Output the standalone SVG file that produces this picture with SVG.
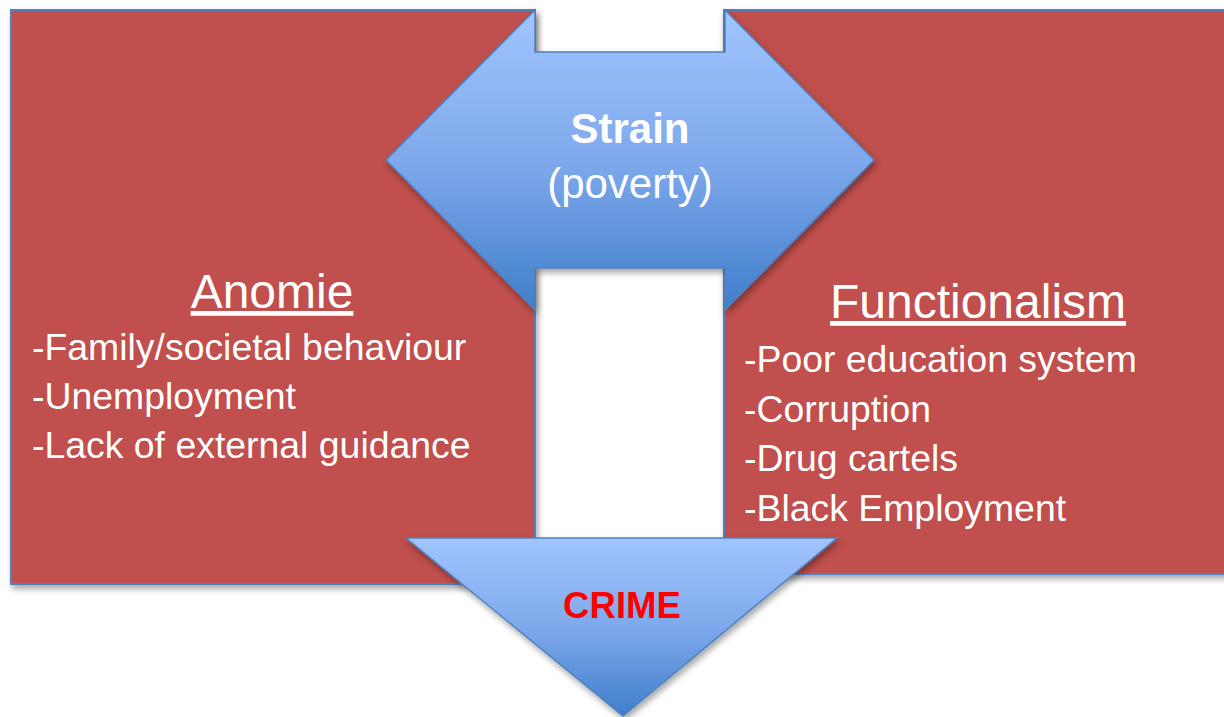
<svg xmlns="http://www.w3.org/2000/svg" width="1224" height="717" viewBox="0 0 1224 717">
<defs>
<linearGradient id="gTop" x1="0" y1="0" x2="0" y2="1">
<stop offset="0" stop-color="#A0C5FF"/>
<stop offset="0.5" stop-color="#7FA9EC"/>
<stop offset="1" stop-color="#3F7ECB"/>
</linearGradient>
<linearGradient id="gBot" x1="0" y1="0" x2="0" y2="1">
<stop offset="0" stop-color="#A0C5FF"/>
<stop offset="0.5" stop-color="#7FA9EC"/>
<stop offset="1" stop-color="#3F7ECB"/>
</linearGradient>
<filter id="sh" x="-10%" y="-10%" width="120%" height="120%">
<feDropShadow dx="2" dy="4" stdDeviation="3" flood-color="#000" flood-opacity="0.35"/>
</filter>
<style>
.box{fill:#C0504D;stroke:#4F81BD;stroke-width:2}
.arrow{stroke:#4F81BD;stroke-width:1.5}
.t{font-family:"Liberation Sans",Arial,sans-serif;fill:#FFFFFF}
.h{font-size:48px;text-decoration:underline}
.li{font-size:37.4px}
</style>
</defs>
<g id="anomie">
<rect class="box" x="11" y="10" width="524" height="574" filter="url(#sh)"/>
</g>
<g id="functionalism">
<rect class="box" x="724" y="10" width="510" height="564" filter="url(#sh)"/>
</g>
<g id="connectors">
<path id="strain-arrow" class="arrow" fill="url(#gTop)" filter="url(#sh)" d="M386,160 L535,10 L535,52 L725,52 L725,10 L874,160 L725,310 L725,268 L535,268 L535,310 Z"/>
<path id="crime-arrow" class="arrow" fill="url(#gBot)" filter="url(#sh)" d="M406,538 L837,538 L623,716 Z"/>
</g>
<g id="anomie-text">
<text class="t h" x="272" y="308" text-anchor="middle">Anomie</text>
<text class="t li" x="32" y="360">-Family/societal behaviour</text>
<text class="t li" x="32" y="409">-Unemployment</text>
<text class="t li" x="32" y="458">-Lack of external guidance</text>
</g>
<g id="functionalism-text">
<text class="t h" x="978" y="318" text-anchor="middle">Functionalism</text>
<text class="t li" x="744" y="372">-Poor education system</text>
<text class="t li" x="744" y="422">-Corruption</text>
<text class="t li" x="744" y="471">-Drug cartels</text>
<text class="t li" x="744" y="521">-Black Employment</text>
</g>
<g id="strain">
<text class="t" x="630" y="143" text-anchor="middle" font-size="42" font-weight="bold">Strain</text>
<text class="t" x="630" y="198" text-anchor="middle" font-size="42">(poverty)</text>
</g>
<g id="crime">
<text x="622" y="618" text-anchor="middle" font-family="Liberation Sans,Arial,sans-serif" font-size="36.6" font-weight="bold" fill="#FF0000">CRIME</text>
</g>
</svg>
